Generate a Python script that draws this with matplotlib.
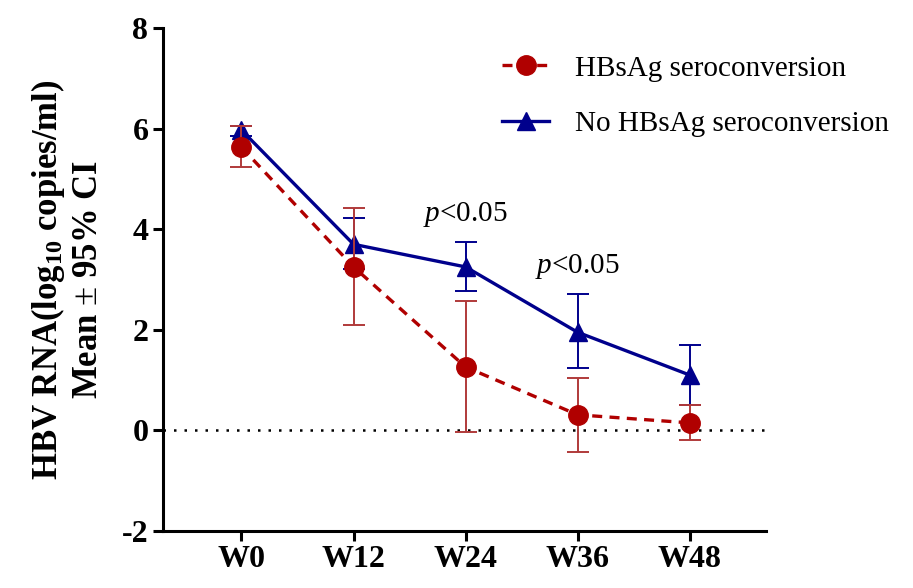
import matplotlib
matplotlib.use('Agg')
import matplotlib.pyplot as plt
from matplotlib.lines import Line2D
import numpy as np

plt.rcParams['font.family'] = 'Liberation Serif'
plt.rcParams['axes.unicode_minus'] = False
plt.rcParams['mathtext.fontset'] = 'custom'
plt.rcParams['mathtext.rm'] = 'Liberation Serif'
plt.rcParams['mathtext.bf'] = 'Liberation Serif:bold'
plt.rcParams['mathtext.it'] = 'Liberation Serif:italic'

weeks = ['W0', 'W12', 'W24', 'W36', 'W48']

# HBsAg seroconversion
red_mean = [5.63, 3.25, 1.26, 0.31, 0.15]
red_lo = [5.24, 2.09, -0.04, -0.43, -0.20]
red_hi = [6.05, 4.43, 2.58, 1.04, 0.50]

# No HBsAg seroconversion
blue_mean = [5.97, 3.70, 3.25, 1.95, 1.10]
blue_lo = [5.85, 3.20, 2.77, 1.24, 0.50]
blue_hi = [6.05, 4.22, 3.75, 2.71, 1.69]

p_labels = [(2, 4.3), (3, 3.25)]

red = '#b00000'
red_err = '#b03a3a'
blue = '#00008c'
red_ls = (0, (3, 2.2))

fig = plt.figure(figsize=(9.13, 5.88), dpi=100)
ax = fig.add_axes([163 / 913, 1 - 531 / 588, (766 - 163) / 913, (531 - 28) / 588])

x = np.arange(len(weeks))

bm = np.array(blue_mean)
ax.errorbar(x, bm, yerr=[bm - np.array(blue_lo), np.array(blue_hi) - bm],
            color=blue, ecolor=blue, elinewidth=1.4, capsize=8, capthick=1.4,
            lw=2.4, marker='^', markersize=13, zorder=3)

rm = np.array(red_mean)
ax.errorbar(x, rm, yerr=[rm - np.array(red_lo), np.array(red_hi) - rm],
            color=red, ecolor=red_err, elinewidth=1.4, capsize=8, capthick=1.4,
            lw=2.4, ls=red_ls, marker='o', markersize=14, zorder=4)

ax.axhline(0, color='black', ls=(0, (1, 3.2)), lw=1.8, zorder=1)

for xi, yi in p_labels:
    ax.text(xi, yi, '$p$<0.05', ha='center', va='center', fontsize=21)

ax.set_xlim(-0.7, 4.68)
ax.set_ylim(-2, 8)
ax.set_yticks([-2, 0, 2, 4, 6, 8])
ax.set_xticks(x)
ax.set_xticklabels(weeks)

for side in ['top', 'right']:
    ax.spines[side].set_visible(False)
for side in ['left', 'bottom']:
    ax.spines[side].set_linewidth(2.2)
ax.tick_params(width=2.2, length=7, labelsize=23)
ax.tick_params(axis='x', pad=3)
for lab in ax.get_xticklabels() + ax.get_yticklabels():
    lab.set_fontweight('bold')

ax.set_ylabel('HBV RNA(log$_{\\mathbf{10}}$ copies/ml)\nMean $\\pm$ 95% CI',
              fontsize=25, fontweight='bold', labelpad=12, linespacing=1.2)

handles = [Line2D([], [], color=red, lw=2.4, ls=red_ls, marker='o', markersize=14),
           Line2D([], [], color=blue, lw=2.4, marker='^', markersize=13)]
labels = ['HBsAg seroconversion', 'No HBsAg seroconversion']
fig.legend(handles, labels, loc='upper left', bbox_to_anchor=(476 / 913, 1 - 29 / 588),
           frameon=False, fontsize=21, handlelength=1.6, labelspacing=1.0,
           handletextpad=0.9)

fig.savefig('out.png', dpi=100)
